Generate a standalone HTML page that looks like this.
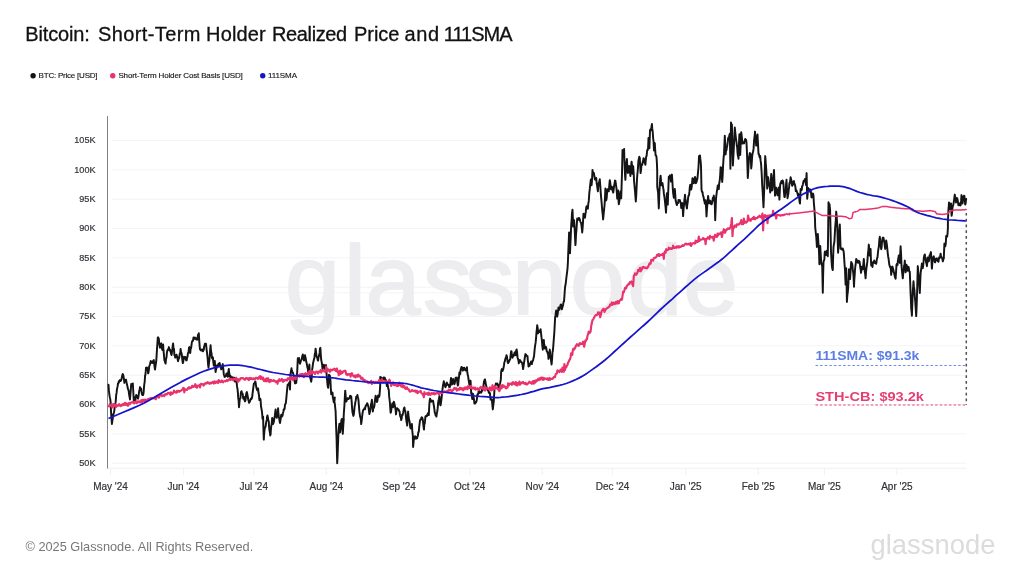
<!DOCTYPE html>
<html lang="en"><head><meta charset="utf-8"><title>Bitcoin: Short-Term Holder Realized Price and 111SMA</title>
<style>
html,body{margin:0;padding:0;background:#fff}
body{will-change:transform;width:1024px;height:576px;position:relative;overflow:hidden;font-family:"Liberation Sans",sans-serif}
.title{-webkit-text-stroke:0.3px #111114;position:absolute;left:0;top:23.3px;height:23px;font-size:20px;line-height:23px;color:#111114;white-space:nowrap}
.title span{position:absolute;top:0}
.legend{-webkit-text-stroke:0.15px #18181b;position:absolute;top:70.4px;left:0;height:12px;font-size:8px;color:#18181b;white-space:nowrap}
.legend span.i{position:absolute;top:0;line-height:12px}
.legend i{position:absolute;top:2.7px;width:5.4px;height:5.4px;border-radius:50%}
.footer{position:absolute;left:25.5px;top:538.5px;font-size:12.75px;line-height:15px;color:#77777b;white-space:nowrap}
</style></head><body>
<div class="title"><span style="left:25.3px;letter-spacing:-0.14px">Bitcoin:</span> <span style="left:98.0px;letter-spacing:0.39px">Short-Term</span> <span style="left:206.1px;letter-spacing:0.15px">Holder</span> <span style="left:272.0px;letter-spacing:-0.37px">Realized</span> <span style="left:354.0px;letter-spacing:-0.05px">Price</span> <span style="left:404.4px;letter-spacing:0.7px">and</span> <span style="left:443.8px;letter-spacing:-0.98px">111SMA</span></div>
<div class="legend">
<span class="i" style="left:38.6px;letter-spacing:-0.22px">BTC: Price [USD]</span>
<span class="i" style="left:118.4px;letter-spacing:-0.15px">Short-Term Holder Cost Basis [USD]</span>
<span class="i" style="left:268px;letter-spacing:-0.1px">111SMA</span>
</div>
<svg width="1024" height="576" viewBox="0 0 1024 576" style="position:absolute;left:0;top:0"><line x1="112" x2="966.5" y1="140.5" y2="140.5" stroke="#f4f3f6" stroke-width="1"/><line x1="112" x2="966.5" y1="169.8" y2="169.8" stroke="#f4f3f6" stroke-width="1"/><line x1="112" x2="966.5" y1="199.2" y2="199.2" stroke="#f4f3f6" stroke-width="1"/><line x1="112" x2="966.5" y1="228.5" y2="228.5" stroke="#f4f3f6" stroke-width="1"/><line x1="112" x2="966.5" y1="257.8" y2="257.8" stroke="#f4f3f6" stroke-width="1"/><line x1="112" x2="966.5" y1="287.2" y2="287.2" stroke="#f4f3f6" stroke-width="1"/><line x1="112" x2="966.5" y1="316.5" y2="316.5" stroke="#f4f3f6" stroke-width="1"/><line x1="112" x2="966.5" y1="345.8" y2="345.8" stroke="#f4f3f6" stroke-width="1"/><line x1="112" x2="966.5" y1="375.2" y2="375.2" stroke="#f4f3f6" stroke-width="1"/><line x1="112" x2="966.5" y1="404.5" y2="404.5" stroke="#f4f3f6" stroke-width="1"/><line x1="112" x2="966.5" y1="433.9" y2="433.9" stroke="#f4f3f6" stroke-width="1"/><line x1="112" x2="966.5" y1="463.2" y2="463.2" stroke="#f4f3f6" stroke-width="1"/><line x1="112" x2="966.5" y1="292.8" y2="292.8" stroke="#f4f3f6" stroke-width="1"/><line x1="107.5" x2="966.5" y1="468.3" y2="468.3" stroke="#f1f0f3" stroke-width="1"/><line x1="110.5" x2="110.5" y1="468.3" y2="475" stroke="#f1f0f3" stroke-width="1"/><line x1="183.4" x2="183.4" y1="468.3" y2="475" stroke="#f1f0f3" stroke-width="1"/><line x1="253.7" x2="253.7" y1="468.3" y2="475" stroke="#f1f0f3" stroke-width="1"/><line x1="326.3" x2="326.3" y1="468.3" y2="475" stroke="#f1f0f3" stroke-width="1"/><line x1="399.1" x2="399.1" y1="468.3" y2="475" stroke="#f1f0f3" stroke-width="1"/><line x1="469.7" x2="469.7" y1="468.3" y2="475" stroke="#f1f0f3" stroke-width="1"/><line x1="542.3" x2="542.3" y1="468.3" y2="475" stroke="#f1f0f3" stroke-width="1"/><line x1="612.6" x2="612.6" y1="468.3" y2="475" stroke="#f1f0f3" stroke-width="1"/><line x1="685.7" x2="685.7" y1="468.3" y2="475" stroke="#f1f0f3" stroke-width="1"/><line x1="758.3" x2="758.3" y1="468.3" y2="475" stroke="#f1f0f3" stroke-width="1"/><line x1="824.4" x2="824.4" y1="468.3" y2="475" stroke="#f1f0f3" stroke-width="1"/><line x1="896.9" x2="896.9" y1="468.3" y2="475" stroke="#f1f0f3" stroke-width="1"/><line x1="107.5" x2="107.5" y1="116" y2="468.5" stroke="#828087" stroke-width="1"/><text x="285.1 344 365.4 422.8 465.3 511.9 570 627.3 683" y="313.75" font-family="'Liberation Sans', sans-serif" font-size="99" fill="#ededef" stroke="#ededef" stroke-width="1.8" stroke-linejoin="round">glassnode</text><text x="95.5" y="143.2" text-anchor="end" textLength="21.2" lengthAdjust="spacingAndGlyphs" font-family="'Liberation Sans', sans-serif" font-size="9.9" fill="#343238" stroke="#343238" stroke-width="0.2">105K</text><text x="95.5" y="172.5" text-anchor="end" textLength="21.2" lengthAdjust="spacingAndGlyphs" font-family="'Liberation Sans', sans-serif" font-size="9.9" fill="#343238" stroke="#343238" stroke-width="0.2">100K</text><text x="95.5" y="201.9" text-anchor="end" textLength="16.2" lengthAdjust="spacingAndGlyphs" font-family="'Liberation Sans', sans-serif" font-size="9.9" fill="#343238" stroke="#343238" stroke-width="0.2">95K</text><text x="95.5" y="231.2" text-anchor="end" textLength="16.2" lengthAdjust="spacingAndGlyphs" font-family="'Liberation Sans', sans-serif" font-size="9.9" fill="#343238" stroke="#343238" stroke-width="0.2">90K</text><text x="95.5" y="260.5" text-anchor="end" textLength="16.2" lengthAdjust="spacingAndGlyphs" font-family="'Liberation Sans', sans-serif" font-size="9.9" fill="#343238" stroke="#343238" stroke-width="0.2">85K</text><text x="95.5" y="289.9" text-anchor="end" textLength="16.2" lengthAdjust="spacingAndGlyphs" font-family="'Liberation Sans', sans-serif" font-size="9.9" fill="#343238" stroke="#343238" stroke-width="0.2">80K</text><text x="95.5" y="319.2" text-anchor="end" textLength="16.2" lengthAdjust="spacingAndGlyphs" font-family="'Liberation Sans', sans-serif" font-size="9.9" fill="#343238" stroke="#343238" stroke-width="0.2">75K</text><text x="95.5" y="348.5" text-anchor="end" textLength="16.2" lengthAdjust="spacingAndGlyphs" font-family="'Liberation Sans', sans-serif" font-size="9.9" fill="#343238" stroke="#343238" stroke-width="0.2">70K</text><text x="95.5" y="377.9" text-anchor="end" textLength="16.2" lengthAdjust="spacingAndGlyphs" font-family="'Liberation Sans', sans-serif" font-size="9.9" fill="#343238" stroke="#343238" stroke-width="0.2">65K</text><text x="95.5" y="407.2" text-anchor="end" textLength="16.2" lengthAdjust="spacingAndGlyphs" font-family="'Liberation Sans', sans-serif" font-size="9.9" fill="#343238" stroke="#343238" stroke-width="0.2">60K</text><text x="95.5" y="436.6" text-anchor="end" textLength="16.2" lengthAdjust="spacingAndGlyphs" font-family="'Liberation Sans', sans-serif" font-size="9.9" fill="#343238" stroke="#343238" stroke-width="0.2">55K</text><text x="95.5" y="465.9" text-anchor="end" textLength="16.2" lengthAdjust="spacingAndGlyphs" font-family="'Liberation Sans', sans-serif" font-size="9.9" fill="#343238" stroke="#343238" stroke-width="0.2">50K</text><text x="110.5" y="489.6" text-anchor="middle" font-family="'Liberation Sans', sans-serif" font-size="10" fill="#343238" stroke="#343238" stroke-width="0.2">May '24</text><text x="183.4" y="489.6" text-anchor="middle" font-family="'Liberation Sans', sans-serif" font-size="10" fill="#343238" stroke="#343238" stroke-width="0.2">Jun '24</text><text x="253.7" y="489.6" text-anchor="middle" font-family="'Liberation Sans', sans-serif" font-size="10" fill="#343238" stroke="#343238" stroke-width="0.2">Jul '24</text><text x="326.3" y="489.6" text-anchor="middle" font-family="'Liberation Sans', sans-serif" font-size="10" fill="#343238" stroke="#343238" stroke-width="0.2">Aug '24</text><text x="399.1" y="489.6" text-anchor="middle" font-family="'Liberation Sans', sans-serif" font-size="10" fill="#343238" stroke="#343238" stroke-width="0.2">Sep '24</text><text x="469.7" y="489.6" text-anchor="middle" font-family="'Liberation Sans', sans-serif" font-size="10" fill="#343238" stroke="#343238" stroke-width="0.2">Oct '24</text><text x="542.3" y="489.6" text-anchor="middle" font-family="'Liberation Sans', sans-serif" font-size="10" fill="#343238" stroke="#343238" stroke-width="0.2">Nov '24</text><text x="612.6" y="489.6" text-anchor="middle" font-family="'Liberation Sans', sans-serif" font-size="10" fill="#343238" stroke="#343238" stroke-width="0.2">Dec '24</text><text x="685.7" y="489.6" text-anchor="middle" font-family="'Liberation Sans', sans-serif" font-size="10" fill="#343238" stroke="#343238" stroke-width="0.2">Jan '25</text><text x="758.3" y="489.6" text-anchor="middle" font-family="'Liberation Sans', sans-serif" font-size="10" fill="#343238" stroke="#343238" stroke-width="0.2">Feb '25</text><text x="824.4" y="489.6" text-anchor="middle" font-family="'Liberation Sans', sans-serif" font-size="10" fill="#343238" stroke="#343238" stroke-width="0.2">Mar '25</text><text x="896.9" y="489.6" text-anchor="middle" font-family="'Liberation Sans', sans-serif" font-size="10" fill="#343238" stroke="#343238" stroke-width="0.2">Apr '25</text><path d="M108.5 384.7L108.9 390.4L109.4 395.0L109.8 397.2L110.2 398.9L110.6 401.8L110.9 408.9L111.2 414.5L111.6 419.8L111.9 424.0L112.3 421.1L112.8 418.0L113.1 414.4L113.4 414.4L113.8 413.1L114.2 411.6L114.6 407.8L115.0 405.2L115.3 403.7L115.6 402.4L115.9 399.1L116.2 394.8L116.6 392.9L116.9 389.6L117.2 388.1L117.6 386.4L118.0 383.5L118.4 383.5L118.8 381.2L119.1 382.0L119.5 380.7L119.9 380.1L120.2 380.4L120.6 380.9L121.0 380.5L121.5 379.2L121.9 377.3L122.3 375.2L122.7 374.0L123.1 374.5L123.5 376.2L124.0 379.6L124.4 382.9L124.8 380.2L125.2 379.9L125.6 380.4L126.0 379.7L126.5 382.1L126.9 384.4L127.3 385.5L127.7 388.1L128.1 389.6L128.5 389.8L128.9 393.0L129.2 395.1L129.6 397.2L130.0 399.5L130.4 394.6L130.8 389.9L131.2 384.0L131.6 385.2L132.0 384.5L132.4 384.3L132.8 383.4L133.1 388.3L133.4 393.7L133.8 400.7L134.1 398.0L134.5 397.2L134.8 398.4L135.2 400.0L135.5 399.7L135.9 397.0L136.2 395.0L136.6 396.9L137.0 396.7L137.4 396.1L137.8 397.9L138.1 398.7L138.5 395.8L138.9 393.3L139.2 391.1L139.6 389.9L140.0 387.1L140.4 388.2L140.8 389.5L141.1 388.7L141.5 391.9L141.9 393.8L142.3 394.9L142.7 393.5L143.1 395.0L143.6 392.8L144.0 387.1L144.3 384.1L144.7 381.8L145.0 376.5L145.3 375.3L145.7 371.9L146.0 367.8L146.4 367.8L146.8 368.1L147.1 367.5L147.5 368.2L147.8 370.3L148.1 373.3L148.5 372.3L148.9 369.7L149.2 366.3L149.6 365.4L150.0 364.3L150.4 362.8L150.7 361.1L151.1 361.5L151.4 361.7L151.8 361.5L152.1 363.1L152.5 361.4L152.9 362.7L153.3 360.7L153.8 360.1L154.2 363.7L154.6 367.0L155.0 369.5L155.4 366.8L155.8 364.1L156.2 361.7L156.6 355.8L157.0 348.9L157.4 343.2L157.8 337.6L158.1 337.4L158.4 338.2L158.8 338.5L159.2 343.3L159.6 345.6L160.0 347.7L160.4 345.6L160.8 344.0L161.2 343.4L161.7 345.7L162.1 349.2L162.5 349.9L162.8 345.4L163.1 344.4L163.5 350.2L164.0 355.5L164.4 360.3L164.8 360.7L165.2 362.6L165.6 363.6L166.0 358.9L166.5 357.5L166.9 352.6L167.3 350.7L167.7 349.9L168.1 349.1L168.5 349.4L168.9 347.1L169.2 348.4L169.6 350.6L170.0 349.6L170.4 350.7L170.8 352.6L171.1 353.7L171.5 355.1L171.9 353.0L172.3 349.5L172.7 346.0L173.1 343.5L173.5 348.3L174.0 348.9L174.4 355.1L174.8 354.9L175.2 357.6L175.6 357.3L176.1 355.8L176.5 354.7L176.9 355.8L177.3 357.5L177.7 359.8L178.1 361.2L178.5 358.9L179.0 358.5L179.4 356.8L179.8 353.4L180.2 353.8L180.6 348.9L181.0 351.8L181.5 353.1L181.9 355.2L182.3 359.6L182.8 363.1L183.2 362.2L183.6 358.9L184.0 356.7L184.4 358.6L184.8 357.9L185.1 357.5L185.5 357.0L185.9 359.6L186.2 360.3L186.7 360.4L187.1 357.6L187.5 356.8L187.9 353.5L188.2 352.6L188.6 351.8L189.0 347.7L189.4 347.1L189.8 350.7L190.2 353.1L190.7 348.3L191.1 348.1L191.5 345.2L191.9 342.0L192.3 341.4L192.7 340.5L193.1 340.5L193.5 337.5L194.0 337.7L194.4 337.6L194.8 338.8L195.2 338.2L195.6 337.8L196.0 339.2L196.5 339.0L196.9 339.1L197.2 339.7L197.6 337.9L198.0 334.8L198.4 334.9L198.8 333.2L199.2 340.1L199.6 345.4L200.0 349.5L200.4 349.5L200.8 350.2L201.1 349.7L201.5 350.5L201.9 349.4L202.2 350.1L202.6 350.8L203.0 351.3L203.4 349.2L203.8 349.8L204.1 346.6L204.5 345.6L204.9 343.8L205.2 345.7L205.6 343.8L206.0 343.8L206.4 347.5L206.8 351.2L207.2 354.3L207.7 358.9L208.1 364.7L208.5 367.7L208.9 363.7L209.4 360.2L209.8 355.0L210.2 349.4L210.6 345.2L211.0 351.0L211.5 353.2L211.9 357.5L212.2 358.6L212.5 358.5L212.9 357.3L213.3 361.9L213.8 365.6L214.1 363.3L214.4 361.4L214.8 361.0L215.2 367.7L215.6 372.0L216.0 369.7L216.5 367.9L216.9 365.4L217.3 366.1L217.7 365.2L218.1 366.2L218.5 363.7L218.9 365.1L219.2 364.6L219.6 362.9L220.0 364.6L220.4 366.6L220.8 366.7L221.2 369.3L221.6 368.6L222.0 366.5L222.4 365.6L222.8 364.1L223.1 367.3L223.4 370.2L223.8 374.2L224.2 375.6L224.6 376.9L225.0 375.9L225.4 376.4L225.8 376.4L226.2 374.1L226.6 373.6L226.9 375.8L227.3 373.2L227.7 374.3L228.0 376.8L228.4 371.4L228.8 368.9L229.1 372.6L229.4 373.6L229.8 376.0L230.1 377.0L230.5 375.9L230.9 376.6L231.2 377.7L231.6 378.6L232.0 378.2L232.3 378.0L232.7 377.2L233.0 377.6L233.4 379.1L233.8 379.1L234.1 378.2L234.5 377.9L234.8 381.4L235.2 381.6L235.5 381.2L235.9 377.9L236.2 379.8L236.7 382.9L237.1 386.9L237.5 388.8L237.9 392.8L238.2 397.9L238.6 400.4L239.0 407.2L239.3 404.2L239.7 400.1L240.0 398.6L240.4 398.2L240.8 394.0L241.1 392.0L241.5 391.2L241.9 392.6L242.3 393.4L242.7 393.9L243.1 397.9L243.5 398.8L243.9 397.3L244.2 397.0L244.6 400.3L245.0 401.4L245.4 400.6L245.8 398.2L246.1 394.4L246.5 392.8L246.9 392.1L247.3 394.2L247.8 396.7L248.2 399.5L248.6 400.6L249.0 402.7L249.4 402.3L249.8 401.4L250.2 400.7L250.6 399.3L251.0 398.4L251.4 398.9L251.8 398.2L252.2 396.9L252.6 393.1L253.0 390.2L253.4 386.9L253.8 383.8L254.1 383.5L254.5 383.4L254.9 382.9L255.2 381.5L255.6 382.3L256.0 385.8L256.5 388.0L256.9 389.6L257.3 390.3L257.7 389.5L258.1 388.4L258.5 392.8L259.0 395.5L259.4 400.1L259.8 399.8L260.2 398.6L260.6 400.1L261.0 406.3L261.5 409.0L261.9 411.1L262.2 414.2L262.5 418.6L262.8 417.9L263.1 416.6L263.4 428.8L263.8 439.6L264.1 434.8L264.4 431.1L264.8 428.3L265.2 427.3L265.6 426.5L266.0 423.5L266.4 421.2L266.8 419.7L267.1 416.7L267.5 415.4L267.9 417.7L268.3 420.3L268.8 421.7L269.1 427.4L269.5 430.6L269.9 432.5L270.2 435.5L270.6 434.5L270.9 429.3L271.2 426.3L271.6 424.5L271.9 421.5L272.2 417.9L272.7 421.1L273.1 424.0L273.5 422.9L274.0 420.9L274.4 418.1L274.8 415.7L275.2 412.7L275.6 409.4L276.1 413.5L276.5 417.4L276.8 417.7L277.2 415.9L277.5 415.3L277.8 412.7L278.1 408.3L278.4 413.2L278.8 416.2L279.2 418.2L279.6 421.0L280.0 423.0L280.4 420.6L280.8 418.2L281.2 414.8L281.7 416.8L282.1 416.0L282.5 415.9L282.9 413.2L283.3 412.0L283.8 409.3L284.2 409.5L284.6 408.8L285.0 404.8L285.4 403.9L285.8 403.2L286.2 399.6L286.7 394.1L287.1 389.9L287.5 385.9L287.8 384.5L288.2 384.9L288.5 384.8L288.9 383.7L289.4 382.2L289.7 386.3L290.0 389.5L290.3 380.2L290.6 373.1L291.1 370.5L291.5 368.3L291.8 370.0L292.2 371.3L292.5 372.8L292.9 372.7L293.3 373.9L293.8 376.6L294.2 379.0L294.6 381.1L295.0 383.4L295.4 382.4L295.8 383.2L296.2 383.0L296.6 379.3L296.9 375.2L297.2 372.0L297.8 358.3L298.2 358.5L298.6 359.4L299.0 358.0L299.3 361.0L299.7 363.2L300.0 363.6L300.4 362.4L300.8 360.9L301.2 360.1L301.6 359.4L302.0 357.8L302.4 355.5L302.8 354.5L303.2 356.4L303.6 358.9L304.0 360.6L304.3 358.3L304.7 355.9L305.0 355.2L305.4 357.1L305.8 358.8L306.2 361.6L306.7 363.3L307.1 365.5L307.5 367.9L307.8 368.3L308.2 371.8L308.5 371.3L308.9 368.6L309.4 364.5L309.7 372.7L310.0 377.0L310.4 378.1L310.8 380.0L311.2 381.7L311.6 379.2L311.9 373.5L312.2 369.4L312.7 366.0L313.1 362.9L313.5 361.3L314.0 359.2L314.4 358.2L314.8 354.0L315.2 352.9L315.6 348.7L316.0 351.6L316.5 356.1L316.9 357.0L317.3 357.8L317.7 360.1L318.1 360.6L318.5 357.4L319.0 355.9L319.4 354.3L319.7 352.2L320.0 348.4L320.4 347.9L320.8 354.9L321.2 359.8L321.7 362.4L322.1 364.5L322.5 368.9L322.9 366.6L323.3 366.5L323.8 364.8L324.2 365.5L324.6 367.9L325.0 370.2L325.3 368.0L325.7 365.5L326.0 365.0L326.4 371.2L326.9 377.9L327.3 382.5L327.7 386.1L328.1 387.8L328.6 383.1L329.0 374.8L329.3 375.9L329.7 375.3L330.0 376.2L330.4 379.9L330.8 388.1L331.2 394.3L331.7 392.9L332.1 392.5L332.5 392.6L332.9 397.6L333.3 399.6L333.8 402.3L334.1 400.8L334.4 399.7L334.8 397.5L334.4 402.0L334.8 403.7L335.2 407.5L335.6 411.2L335.9 420.4L336.2 428.7L336.6 439.5L336.9 451.8L337.2 463.2L337.6 455.7L337.9 446.4L338.2 439.2L338.5 432.3L338.9 427.9L339.4 423.7L339.7 427.8L340.0 432.4L340.3 429.2L340.7 425.8L341.0 423.7L341.4 420.4L341.9 418.9L342.3 429.4L342.8 433.8L343.1 428.4L343.4 423.8L343.8 418.8L343.5 419.7L343.9 412.3L344.4 405.8L344.8 397.9L345.2 390.7L345.6 394.9L346.0 401.4L346.4 401.4L346.8 399.8L347.1 398.5L347.5 399.1L347.9 398.2L348.2 398.8L348.6 399.0L349.0 398.5L349.4 398.2L349.8 397.5L350.1 395.8L350.5 396.4L350.9 397.1L351.2 396.3L351.7 401.9L352.1 408.2L352.5 412.4L352.9 413.8L353.3 415.9L353.8 414.6L354.2 410.8L354.6 406.7L355.0 404.5L355.4 401.9L355.8 400.2L356.2 396.7L356.6 396.7L357.0 396.7L357.4 395.0L357.8 397.4L358.1 397.9L358.5 400.5L359.0 406.9L359.4 411.7L359.8 414.4L360.1 416.8L360.5 417.3L360.9 420.0L361.2 424.1L361.7 420.4L362.1 417.0L362.5 413.7L362.9 411.0L363.3 409.9L363.8 409.4L364.2 408.7L364.6 407.9L365.0 409.3L365.4 406.9L365.8 405.4L366.1 405.6L366.5 405.5L366.9 403.6L367.3 403.2L367.7 404.7L368.1 405.6L368.5 407.4L369.0 411.0L369.4 414.0L369.8 412.6L370.2 410.2L370.6 407.9L371.0 404.3L371.5 402.2L371.9 399.8L372.3 404.7L372.8 411.5L373.2 409.0L373.6 407.9L374.0 407.5L374.4 405.8L374.8 401.6L375.2 398.4L375.6 395.8L376.0 396.6L376.5 399.9L376.9 402.1L377.3 401.3L377.7 398.5L378.1 395.5L378.5 396.5L379.0 396.9L379.4 396.1L379.8 391.7L380.2 385.5L380.2 376.9L380.7 378.3L381.1 377.3L381.5 378.0L381.9 379.4L382.3 379.9L382.7 378.8L383.1 378.5L383.5 377.5L383.9 377.9L384.3 379.4L384.8 377.6L385.2 380.7L385.6 379.6L386.0 380.2L386.4 382.8L386.9 386.1L387.2 384.5L387.5 383.1L387.9 386.3L388.3 388.6L388.8 390.1L389.2 396.9L389.6 400.0L390.0 404.0L390.3 408.7L390.6 412.7L391.0 412.2L391.5 408.1L391.9 406.2L392.3 403.5L392.7 406.7L393.1 407.2L393.4 404.2L393.8 401.7L394.2 402.8L394.6 404.5L395.0 406.4L395.3 408.2L395.7 410.7L396.0 414.4L396.4 411.2L396.9 408.1L397.2 408.1L397.6 409.4L398.0 409.6L398.4 409.3L398.8 410.0L399.2 411.1L399.6 411.5L400.0 415.2L400.4 416.8L400.8 417.0L401.2 420.1L401.7 418.3L402.1 414.7L402.5 415.3L402.9 413.5L403.2 412.4L403.6 410.3L404.0 408.2L404.4 407.4L404.8 410.0L405.2 410.7L405.6 413.2L405.9 416.6L406.2 419.4L406.6 422.1L406.9 423.4L407.2 425.5L407.7 417.1L408.1 411.6L408.5 415.5L409.0 419.4L409.4 420.7L409.8 423.0L410.2 427.1L410.6 428.4L411.0 427.2L411.5 426.8L411.9 424.0L412.3 430.9L412.8 435.5L413.1 447.0L413.6 441.8L414.0 436.9L414.3 437.5L414.7 438.8L415.0 436.2L415.4 436.5L415.8 438.4L416.2 438.4L416.7 438.5L417.1 438.2L417.5 436.7L417.9 435.6L418.3 432.1L418.8 431.9L419.2 426.9L419.6 423.7L420.0 420.6L420.4 419.6L420.8 419.7L421.2 418.3L421.7 417.3L422.1 417.6L422.5 418.5L422.9 420.5L423.2 423.4L423.6 427.2L424.0 429.6L424.3 424.2L424.7 423.7L425.0 421.2L425.4 416.6L425.8 416.0L426.2 415.8L426.7 416.2L427.1 415.8L427.5 414.5L427.9 413.3L428.3 413.9L428.8 415.1L429.1 409.0L429.4 403.7L429.8 399.9L430.1 398.6L430.5 399.9L430.9 400.4L431.2 401.7L431.6 401.0L432.0 400.6L432.4 400.8L432.8 401.3L433.1 400.9L433.5 403.5L434.0 406.5L434.4 409.4L434.8 412.9L435.2 413.3L435.6 415.2L436.0 415.4L436.4 416.6L436.8 413.4L437.2 411.5L437.7 408.4L438.1 403.1L438.5 400.4L438.9 399.2L439.4 396.1L439.8 400.4L440.2 404.8L440.6 405.3L441.0 402.7L441.5 398.7L441.9 394.9L442.3 390.6L442.8 387.1L443.1 384.5L443.4 383.7L443.8 381.2L444.2 383.6L444.6 384.1L445.0 385.9L445.4 387.3L445.8 386.4L446.1 385.1L446.5 383.3L446.9 382.5L447.2 383.5L447.6 384.8L448.0 384.9L448.4 385.1L448.8 384.7L449.1 386.9L449.4 386.7L449.8 387.1L450.2 385.1L450.6 381.6L451.0 378.0L451.4 380.9L451.9 384.5L452.3 383.7L452.7 382.2L453.1 379.0L453.5 381.7L454.0 383.5L454.4 384.1L454.8 383.1L455.2 380.3L455.6 377.7L456.0 378.5L456.5 379.3L456.9 377.5L457.3 382.3L457.8 385.6L458.2 384.8L458.6 379.8L459.0 377.3L459.4 372.5L459.8 372.9L460.2 374.2L460.6 369.9L461.1 368.0L461.5 366.9L461.9 367.4L462.3 367.4L462.7 370.6L463.1 370.3L463.5 368.1L463.9 369.7L464.2 367.8L464.6 369.8L465.0 369.0L465.4 369.3L465.8 370.6L466.1 370.1L466.5 368.3L466.9 367.2L467.3 371.9L467.7 374.8L468.1 375.8L468.5 379.4L469.0 382.0L469.4 384.8L469.8 380.9L470.2 380.6L470.6 381.0L470.9 387.5L471.2 393.8L471.6 392.7L471.9 396.0L472.2 398.9L472.7 398.9L473.1 394.0L473.5 396.4L474.0 399.5L474.4 403.4L474.8 402.4L475.1 403.6L475.5 402.2L475.9 402.6L476.2 402.0L476.7 400.4L477.1 397.6L477.5 394.3L477.9 394.6L478.3 392.9L478.8 390.2L479.2 391.3L479.6 392.9L480.0 392.0L480.4 392.0L480.8 392.6L481.1 392.8L481.5 392.0L481.9 389.8L482.3 390.9L482.7 389.8L483.1 388.3L483.6 384.5L484.0 381.4L484.3 380.7L484.7 379.7L485.0 379.4L485.4 381.7L485.8 384.1L486.2 385.8L486.7 388.2L487.1 387.8L487.5 390.0L487.9 389.4L488.3 390.7L488.8 392.6L489.2 392.9L489.6 392.5L490.0 393.6L490.3 397.6L490.6 399.6L491.0 399.5L491.5 400.0L491.9 399.3L492.3 404.2L492.8 409.4L493.1 406.9L493.4 404.3L493.8 401.2L494.1 395.7L494.4 390.9L494.8 386.0L495.1 385.5L495.5 385.3L495.9 383.4L496.2 383.8L496.7 384.2L497.1 383.4L497.5 383.8L497.9 385.5L498.3 386.0L498.8 388.9L499.2 385.0L499.6 385.5L500.0 384.0L500.4 381.6L500.8 379.7L501.2 371.2L501.6 370.2L501.9 369.1L502.3 369.4L502.7 370.9L503.1 369.2L503.1 369.9L503.5 367.8L504.0 365.2L504.4 362.0L504.8 361.5L505.2 359.3L505.6 358.2L506.0 357.4L506.5 355.2L506.9 356.4L507.3 359.3L507.7 362.3L508.1 363.2L508.5 362.2L509.0 361.7L509.4 360.4L509.8 359.7L510.2 359.3L510.6 355.3L511.1 351.3L511.5 351.3L511.8 354.5L512.2 356.2L512.5 357.8L512.9 356.1L513.2 355.1L513.6 356.1L514.0 354.6L514.4 352.9L514.8 352.2L515.2 355.0L515.6 355.2L516.0 352.0L516.3 349.9L516.6 349.4L517.1 352.1L517.5 357.2L517.9 358.7L518.3 359.5L518.8 363.4L519.2 361.5L519.6 361.0L520.0 360.1L520.4 360.5L520.8 361.9L521.2 361.9L521.7 362.3L522.1 363.1L522.5 364.8L522.8 366.8L523.1 369.1L523.6 365.9L524.0 362.9L524.3 361.1L524.7 358.5L525.0 356.5L525.4 354.1L525.8 354.5L526.2 354.9L526.7 355.9L527.1 355.9L527.5 356.1L527.8 360.3L528.2 362.9L528.5 366.5L528.9 366.2L529.2 365.3L529.6 365.8L530.0 363.9L530.4 363.1L530.8 362.1L531.1 361.4L531.5 363.3L531.9 364.1L532.3 361.9L532.7 360.8L533.1 360.4L533.5 358.2L534.0 356.5L534.4 352.1L534.8 347.9L535.2 345.1L535.6 342.7L536.1 337.6L536.5 332.0L536.9 328.8L537.2 325.3L537.7 328.1L538.1 333.4L538.5 331.5L539.0 330.8L539.4 332.1L539.8 331.9L540.2 330.9L540.6 329.3L541.0 332.9L541.5 337.4L541.9 340.2L542.3 345.7L542.8 349.7L543.1 346.6L543.4 342.7L543.8 339.9L544.1 344.0L544.4 344.9L544.8 348.4L545.2 348.4L545.6 347.4L546.0 346.9L546.4 348.9L546.8 351.4L547.2 351.6L547.7 353.6L548.1 353.9L548.5 358.9L548.9 355.9L549.3 353.2L549.8 349.6L550.2 354.2L550.6 357.4L551.0 360.1L551.3 362.7L551.6 364.5L552.1 358.8L552.5 351.8L552.8 351.1L553.2 347.3L553.5 343.1L553.9 337.7L554.4 331.3L554.8 323.4L555.2 316.4L555.6 315.2L555.9 312.1L556.2 310.5L556.6 314.0L556.9 315.8L557.2 316.6L557.7 313.6L558.1 310.4L558.5 307.5L558.9 309.3L559.3 309.8L559.8 308.3L560.1 307.5L560.5 305.1L560.9 304.4L561.2 304.7L561.6 306.1L561.9 309.3L562.2 308.0L562.6 306.8L562.9 305.8L563.2 304.2L563.6 301.7L564.0 301.4L564.4 296.3L564.8 290.1L565.2 286.2L565.6 284.5L566.1 280.2L566.5 276.7L566.9 273.7L567.2 271.3L567.6 267.5L567.9 262.2L568.2 254.2L568.5 246.9L568.8 240.2L569.1 232.4L569.6 242.0L570.0 253.3L570.3 245.6L570.7 237.8L571.0 229.7L571.3 223.5L571.7 218.8L572.0 212.9L572.5 209.7L572.9 219.1L573.2 226.6L573.7 224.1L574.1 220.1L574.5 225.8L575.0 236.7L575.4 245.1L575.7 241.8L576.0 234.6L576.4 230.5L576.8 224.7L577.2 218.6L577.6 218.9L578.0 220.1L578.4 218.3L578.8 218.0L579.1 217.9L579.5 219.0L579.9 219.7L580.2 221.3L580.6 222.2L581.0 222.6L581.4 225.0L581.8 228.0L582.2 232.5L582.7 226.9L583.1 220.4L583.5 213.7L583.9 215.9L584.2 215.1L584.6 216.3L585.0 217.7L585.4 214.0L585.8 211.9L586.2 207.6L586.6 206.3L587.0 207.2L587.5 206.4L587.9 208.8L588.3 203.5L588.8 200.9L589.1 196.0L589.4 192.2L589.8 188.9L590.1 185.6L590.4 183.1L590.8 179.5L591.2 183.0L591.6 185.2L592.1 179.1L592.5 169.9L592.9 173.1L593.3 173.8L593.7 172.6L594.1 174.3L594.5 176.8L595.0 179.5L595.4 179.4L595.8 180.0L596.2 177.9L596.7 183.5L597.1 185.4L597.5 188.9L597.9 191.4L598.3 185.8L598.8 183.1L599.1 182.0L599.4 181.2L599.8 179.3L600.1 183.6L600.4 187.6L600.8 193.6L601.2 198.1L601.6 202.4L602.0 207.6L602.4 211.9L602.8 215.3L603.1 219.5L603.5 215.7L603.8 212.5L604.1 209.6L604.6 204.5L605.0 197.4L605.4 188.5L605.8 195.7L606.2 200.4L606.7 198.0L607.1 192.3L607.5 189.2L607.9 190.5L608.3 190.1L608.8 191.3L609.1 187.9L609.4 184.1L609.8 180.2L610.1 181.8L610.4 183.8L610.8 188.7L611.1 189.3L611.5 188.7L611.9 186.8L612.2 187.8L612.6 190.1L612.9 191.8L613.2 192.5L613.7 189.0L614.1 185.9L614.5 183.6L615.0 180.6L615.4 180.7L615.8 184.0L616.2 186.4L616.6 189.7L616.9 193.6L617.2 198.6L617.7 194.0L618.1 190.4L618.4 198.7L618.8 204.3L619.1 202.9L619.5 200.1L619.9 195.7L620.4 191.5L620.8 196.2L621.2 198.4L621.6 185.9L622.0 172.8L622.5 150.1L622.9 151.1L623.3 150.5L623.7 150.0L624.1 149.0L624.4 160.3L624.8 169.9L625.1 176.1L625.4 179.8L625.7 173.8L626.0 168.7L626.4 163.0L626.9 159.0L627.2 164.5L627.5 167.1L627.9 173.0L628.3 172.0L628.7 169.1L629.1 166.0L629.5 169.0L630.0 172.1L630.4 176.0L630.8 171.2L631.2 164.8L631.6 161.7L632.1 166.2L632.5 173.8L632.9 169.4L633.2 166.3L633.7 173.6L634.1 181.3L634.6 187.0L635.0 191.2L635.4 196.5L635.8 201.5L636.2 196.3L636.6 187.7L637.0 179.0L637.4 173.9L637.8 170.5L638.1 165.1L638.5 160.2L638.9 158.9L639.3 156.8L639.8 158.1L640.2 166.7L640.6 173.1L641.1 169.3L641.5 164.5L641.8 164.6L642.2 164.9L642.5 163.1L642.8 161.6L643.2 160.4L643.5 158.3L643.9 158.6L644.4 161.3L644.7 163.2L645.0 162.8L645.4 164.8L645.8 159.8L646.2 156.6L646.6 156.0L646.9 153.2L647.2 150.0L647.7 150.2L648.1 148.0L648.5 137.9L648.9 141.3L649.4 148.3L649.7 139.9L650.0 130.6L650.3 129.5L650.7 130.0L651.0 130.2L651.4 127.3L651.9 124.0L652.3 128.9L652.8 132.7L653.1 137.8L653.5 140.9L654.0 150.5L654.4 146.1L654.8 143.1L655.2 150.1L655.6 155.4L656.1 155.5L656.5 157.0L656.9 162.9L657.2 170.6L657.2 186.5L657.7 190.0L658.1 192.6L658.4 199.9L658.8 208.4L659.1 200.4L659.4 191.8L659.8 185.1L660.2 178.8L660.6 175.7L661.1 181.7L661.5 185.2L661.8 184.1L662.2 184.2L662.5 183.1L662.8 185.4L663.2 188.2L663.5 189.3L663.9 193.9L664.4 196.9L664.8 199.8L665.2 203.9L665.6 207.6L666.0 212.6L666.4 204.1L666.9 193.3L667.3 198.3L667.8 204.6L668.1 195.0L668.4 187.3L668.8 176.7L669.2 177.3L669.6 176.3L670.0 175.3L670.3 178.8L670.7 178.5L671.0 181.6L671.4 177.6L671.9 174.6L672.3 180.0L672.8 188.7L673.1 192.8L673.4 194.9L673.8 197.7L674.1 197.1L674.4 193.0L674.8 188.9L675.2 193.8L675.6 200.2L676.1 202.3L676.5 204.1L676.9 205.0L677.3 203.0L677.7 202.6L678.1 203.0L678.5 200.0L679.0 200.1L679.4 200.4L679.8 200.0L680.2 201.3L680.6 203.0L680.9 204.1L681.2 208.0L681.6 204.3L681.9 203.7L682.2 203.1L682.7 208.3L683.1 216.1L683.6 208.7L684.0 204.8L684.3 200.8L684.7 197.7L685.0 194.8L685.3 198.4L685.7 200.7L686.0 203.7L686.4 205.7L686.9 208.6L687.3 204.6L687.7 202.4L688.1 197.8L688.5 195.6L689.0 195.4L689.4 191.9L689.8 187.2L690.2 184.8L690.6 186.0L690.9 187.0L691.2 189.6L691.7 186.9L692.1 182.9L692.5 178.2L692.9 178.7L693.3 179.6L693.8 183.2L694.2 182.0L694.6 179.7L695.0 176.9L695.4 178.2L695.8 183.2L696.2 182.6L696.7 181.1L697.1 179.9L697.5 178.0L697.8 174.7L698.2 170.4L698.5 167.0L699.0 156.5L699.3 155.7L699.7 157.1L700.0 155.5L700.3 158.7L700.7 162.1L701.0 166.0L701.5 189.3L701.8 191.1L702.2 192.2L702.5 192.0L702.9 195.0L703.3 196.3L703.8 198.2L704.1 200.7L704.4 200.2L704.8 203.6L705.2 202.1L705.6 200.3L706.1 208.0L706.5 216.4L706.9 210.3L707.2 206.1L707.7 200.6L708.1 195.9L708.6 200.8L709.0 203.3L709.3 203.0L709.7 200.6L710.0 200.7L710.4 201.8L710.8 203.4L711.2 204.2L711.7 204.3L712.1 202.1L712.5 200.3L712.9 197.7L713.3 198.2L713.8 195.6L714.1 197.9L714.4 200.6L714.8 203.9L715.2 220.2L715.6 209.9L716.0 198.9L716.4 195.2L716.9 191.1L717.3 188.8L717.8 185.5L718.1 186.9L718.4 188.1L718.8 189.2L719.1 184.2L719.4 182.3L719.8 179.8L720.2 175.1L720.6 167.2L720.9 167.4L721.2 167.8L721.6 172.4L721.9 178.2L722.2 181.9L722.7 175.0L723.1 165.2L723.6 157.7L724.0 153.9L724.4 144.9L724.8 135.7L725.2 144.8L725.6 154.4L726.0 150.8L726.5 150.1L726.9 147.2L727.3 145.2L727.8 141.7L728.1 138.7L728.4 137.5L728.8 138.9L729.1 137.0L729.4 135.0L729.8 133.8L730.1 151.2L730.4 168.7L730.7 145.7L731.0 122.5L731.4 124.7L731.9 124.5L732.2 138.9L732.5 152.4L732.9 165.5L733.3 157.4L733.8 148.7L734.1 141.7L734.4 134.7L734.8 127.5L735.2 131.8L735.6 135.4L736.1 140.0L736.5 142.4L736.8 145.5L737.2 147.7L737.5 152.8L737.8 155.2L738.2 156.9L738.5 158.8L738.9 144.8L739.4 134.2L739.8 143.3L740.2 154.9L740.6 146.3L740.9 138.2L741.2 132.2L741.7 135.8L742.1 139.9L742.5 143.6L742.9 142.3L743.3 143.3L743.8 142.8L744.1 143.3L744.5 141.2L744.9 140.5L745.2 139.0L745.6 140.0L746.1 139.8L746.5 142.6L746.9 151.1L747.2 159.4L747.8 178.0L748.1 174.0L748.4 167.5L748.8 161.6L749.1 157.0L749.4 155.4L749.8 153.1L750.2 153.4L750.6 154.3L750.9 160.0L751.2 168.5L751.6 165.3L751.9 160.8L752.2 155.9L752.7 153.0L753.1 151.8L753.6 148.4L754.0 141.9L754.3 138.4L754.7 135.6L755.0 131.6L755.4 137.4L755.8 140.1L756.2 145.6L756.7 140.2L757.1 136.4L757.5 134.4L757.8 140.2L758.2 147.8L758.5 153.9L758.9 153.9L759.4 156.4L759.8 157.8L760.2 156.0L760.6 160.7L760.9 162.7L761.2 165.0L761.2 166.2L761.6 172.0L761.9 178.2L762.2 185.7L762.7 192.2L763.1 200.3L763.5 207.3L763.9 196.1L764.4 184.7L764.8 169.4L765.2 156.1L765.6 160.7L765.9 165.7L766.2 168.9L766.6 175.3L766.9 181.5L767.2 188.6L767.7 182.5L768.1 177.1L768.5 179.8L769.0 184.1L769.4 186.0L769.8 187.5L770.2 192.5L770.6 187.1L770.9 180.8L771.2 174.0L771.7 181.4L772.1 190.6L772.5 189.2L772.8 185.0L773.1 180.8L773.6 175.7L774.0 170.0L774.3 178.5L774.7 186.8L775.0 195.6L775.4 191.9L775.8 191.0L776.2 187.6L776.7 190.9L777.1 193.1L777.5 195.4L777.9 193.2L778.3 189.7L778.8 187.6L779.1 194.0L779.4 199.6L779.8 191.7L780.2 184.2L780.7 182.8L781.1 181.9L781.5 181.0L781.8 183.3L782.2 181.5L782.5 180.4L782.8 180.7L783.2 182.1L783.5 184.3L783.9 191.5L784.4 197.0L784.8 197.0L785.2 193.5L785.6 192.3L786.1 184.1L786.5 179.8L786.8 186.1L787.2 192.0L787.5 198.2L787.9 196.0L788.3 193.8L788.8 189.5L789.1 187.3L789.4 183.2L789.8 183.0L790.2 180.6L790.6 177.3L791.0 178.7L791.5 180.7L791.9 185.1L792.3 185.8L792.7 184.1L793.1 184.6L793.5 181.7L793.9 181.1L794.2 182.9L794.6 183.8L795.0 185.0L795.4 186.9L795.8 191.1L796.1 189.9L796.5 190.6L796.9 191.7L797.2 192.2L797.6 193.8L798.0 195.7L798.4 194.0L798.8 195.1L799.2 198.1L799.6 201.9L800.0 203.6L800.3 196.4L800.6 189.1L801.0 190.5L801.4 190.2L801.8 189.5L802.1 186.1L802.5 186.1L802.9 184.4L803.3 182.1L803.8 180.7L804.2 181.1L804.6 180.5L805.0 178.9L805.3 181.4L805.7 182.6L806.0 184.9L806.3 178.8L806.6 173.1L806.9 185.8L807.2 198.7L807.7 193.6L808.1 188.0L808.5 190.5L809.0 189.7L809.4 189.2L809.8 191.5L810.2 192.0L810.6 189.6L811.1 193.7L811.5 197.3L811.8 197.4L812.2 196.1L812.5 194.3L812.8 193.4L813.2 194.0L813.5 196.1L813.9 203.5L814.4 209.2L814.7 214.2L815.0 219.3L815.2 227.2L815.6 231.0L815.9 234.0L816.2 236.2L816.6 241.9L816.9 246.9L817.3 239.5L817.8 233.9L818.1 238.1L818.4 242.8L818.8 247.2L819.1 254.7L819.4 264.2L819.8 256.2L820.2 245.9L820.6 252.2L820.9 257.5L821.2 261.9L821.6 264.2L821.9 265.2L822.2 265.7L822.8 292.8L823.1 276.9L823.5 262.2L823.9 260.5L824.4 259.3L824.7 252.6L825.0 251.5L825.3 254.2L825.7 253.8L826.0 255.0L826.4 252.9L826.9 250.7L827.3 253.3L827.8 256.2L828.2 226.6L828.5 202.3L828.8 203.2L829.2 204.4L829.5 204.3L829.8 207.2L830.1 209.9L830.5 228.1L831.0 251.7L831.4 258.8L831.9 266.0L832.3 268.6L832.8 270.1L833.1 258.3L833.5 247.1L833.9 244.3L834.4 241.8L834.8 234.4L835.2 227.1L835.8 220.2L836.2 211.6L836.7 216.7L837.1 222.7L837.5 233.2L837.8 244.2L838.1 252.7L838.6 243.5L839.0 236.1L839.4 229.3L839.8 224.5L840.2 237.0L840.6 248.7L841.0 248.1L841.5 249.1L841.9 249.4L842.3 249.7L842.7 248.4L843.1 249.5L843.6 251.2L844.0 255.5L844.3 260.5L844.7 266.2L845.0 269.8L845.3 277.9L845.6 284.6L845.9 276.2L846.2 268.2L846.6 284.2L846.9 301.9L847.3 296.0L847.7 292.8L848.1 289.0L848.6 279.5L849.0 269.2L849.3 272.5L849.7 276.2L850.0 279.1L850.4 274.2L850.8 266.8L851.2 261.9L851.7 264.6L852.1 263.5L852.5 265.8L852.8 270.1L853.2 272.6L853.5 275.7L854.0 286.8L854.3 279.8L854.7 274.9L855.0 269.6L855.4 266.0L855.8 263.1L856.2 258.9L856.7 259.8L857.1 261.0L857.5 261.5L857.9 262.8L858.3 261.7L858.8 260.7L859.2 261.3L859.6 261.9L860.0 264.8L860.3 267.7L860.7 269.6L861.0 272.8L861.4 270.1L861.9 266.8L862.3 269.5L862.8 269.2L863.1 266.8L863.4 263.5L863.8 258.9L864.1 263.3L864.4 267.2L864.8 271.6L865.2 274.4L865.6 278.3L866.0 272.2L866.5 267.6L866.9 265.0L867.3 261.9L867.7 257.1L868.1 252.1L868.4 250.3L868.8 244.6L869.1 247.6L869.4 252.1L869.8 255.6L870.2 252.4L870.6 249.0L870.9 258.6L871.2 265.4L871.7 264.7L872.1 265.6L872.5 267.0L872.9 262.3L873.3 263.0L873.8 262.0L874.2 260.4L874.6 262.9L875.0 262.0L875.4 263.3L875.8 262.6L876.2 263.8L876.7 260.1L877.1 258.2L877.5 257.4L877.9 253.2L878.3 249.7L878.8 246.8L879.1 243.6L879.4 239.2L879.8 236.8L880.2 240.2L880.6 242.8L880.9 247.5L881.2 249.2L881.6 247.4L881.9 243.1L882.2 240.8L882.7 237.8L883.1 238.2L883.5 237.7L883.9 240.3L884.4 242.8L884.8 246.1L885.2 248.9L885.6 244.6L885.9 242.8L886.2 240.5L886.6 243.0L886.9 244.9L887.2 247.9L887.7 252.9L888.1 256.2L888.5 258.2L889.0 262.4L889.4 265.2L889.8 266.2L890.2 267.3L890.6 266.8L890.9 270.1L891.2 274.9L891.7 271.2L892.1 268.6L892.5 266.6L892.9 268.4L893.3 269.5L893.8 272.2L894.1 272.8L894.4 274.6L894.8 276.4L895.2 277.6L895.6 278.8L896.1 271.3L896.5 264.7L896.8 264.1L897.2 264.5L897.5 265.2L897.9 260.7L898.3 258.8L898.8 255.4L899.1 257.2L899.4 259.6L899.8 262.8L900.2 254.1L900.6 246.3L901.1 254.6L901.5 265.7L901.9 270.4L902.3 274.0L902.8 278.3L903.1 274.8L903.4 271.3L903.8 269.1L904.1 265.6L904.4 265.7L904.8 260.6L905.2 267.5L905.6 272.3L906.1 268.3L906.5 264.8L906.8 265.5L907.2 268.7L907.5 270.7L907.8 267.6L908.2 267.6L908.5 266.8L908.9 268.6L909.3 271.5L909.8 271.7L910.2 282.6L910.6 293.6L910.9 299.6L911.2 308.5L911.6 311.5L911.9 315.8L912.3 304.7L912.8 291.3L913.1 287.2L913.5 281.2L913.9 286.4L914.4 289.8L914.8 296.5L915.2 300.8L915.6 306.8L915.9 311.3L916.2 316.1L916.6 307.4L916.9 298.8L917.2 288.1L917.5 276.9L917.8 266.1L918.1 269.7L918.4 273.8L918.8 278.7L919.1 281.9L919.4 287.5L919.8 293.0L920.2 282.4L920.6 273.3L921.0 270.5L921.5 266.9L921.9 263.6L922.3 267.0L922.8 268.2L923.1 266.2L923.4 263.5L923.8 258.4L924.1 256.3L924.4 255.4L924.8 254.4L925.2 256.7L925.6 258.6L926.0 262.0L926.5 263.7L926.9 266.2L927.3 262.6L927.8 257.4L928.1 259.8L928.4 258.9L928.8 261.4L929.2 259.1L929.6 255.1L930.0 255.1L930.4 253.8L930.9 252.1L931.2 256.1L931.5 261.4L931.9 268.6L932.2 265.1L932.5 259.7L932.9 258.8L933.3 257.1L933.8 256.3L934.1 258.7L934.4 260.3L934.8 262.3L935.2 262.3L935.6 258.7L936.0 259.5L936.4 258.8L936.8 258.3L937.2 260.3L937.7 261.1L938.1 260.1L938.5 261.7L938.9 258.4L939.4 257.1L939.8 257.9L940.2 256.2L940.6 253.7L941.0 255.7L941.5 257.5L941.9 257.9L942.3 258.4L942.8 261.4L943.1 260.3L943.4 259.1L943.8 258.4L944.1 250.7L944.4 243.6L944.7 244.5L945.0 246.6L945.4 245.8L945.8 243.3L946.2 235.9L946.6 237.3L946.9 236.1L947.2 236.4L947.6 233.2L947.9 227.9L947.9 222.0L948.4 210.0L948.7 207.2L949.0 202.5L949.3 203.3L949.7 203.5L950.0 208.9L950.3 207.1L950.7 205.8L951.0 203.5L951.3 210.9L951.6 215.8L952.1 212.5L952.5 207.7L952.9 205.7L953.3 204.8L953.8 201.8L954.1 199.8L954.4 197.5L954.8 194.6L955.2 197.2L955.6 199.1L956.0 202.5L956.4 198.0L956.8 198.5L957.2 198.2L957.7 200.4L958.1 203.2L958.5 205.3L958.9 204.6L959.3 203.4L959.8 203.4L960.2 205.5L960.6 205.3L961.1 200.9L961.5 195.1L961.8 197.2L962.2 200.7L962.5 203.5L962.8 201.7L963.2 198.7L963.5 196.9L963.9 195.7L964.4 196.1L964.8 200.0L965.2 204.5L965.6 203.6L965.9 200.6L966.2 199.0" fill="none" stroke="#141416" stroke-width="1.95" stroke-linejoin="round" stroke-linecap="round"/><path d="M108.5 405.5L109.1 406.4L109.7 404.2L110.3 405.0L110.9 406.0L111.4 406.2L112.0 405.1L112.6 407.5L113.2 404.0L113.8 404.4L114.4 405.6L115.0 406.4L115.6 404.8L116.2 407.0L116.8 405.3L117.3 405.8L117.9 405.9L118.5 405.0L119.1 404.2L119.7 404.8L120.3 406.1L120.9 406.0L121.5 405.0L122.1 405.4L122.6 404.3L123.2 403.9L123.8 405.1L124.4 404.8L125.0 402.9L125.6 404.8L126.2 403.3L126.8 405.1L127.4 404.5L128.0 405.8L128.6 403.2L129.2 403.7L129.8 404.3L130.4 402.6L131.0 402.7L131.7 402.7L132.3 401.9L132.9 402.7L133.5 401.8L134.1 403.4L134.7 402.2L135.3 402.5L135.9 401.7L136.5 403.2L137.1 401.3L137.7 402.6L138.3 401.5L138.9 402.1L139.5 401.3L140.1 402.2L140.7 402.5L141.3 400.0L141.9 402.2L142.5 401.1L143.1 399.7L143.8 401.3L144.4 400.9L145.0 399.6L145.6 401.5L146.2 401.2L146.8 400.0L147.4 399.7L148.0 399.2L148.6 400.1L149.2 398.8L149.8 398.6L150.4 398.7L151.0 398.0L151.6 398.5L152.2 398.4L152.8 398.1L153.4 398.3L154.0 398.5L154.6 397.9L155.2 398.0L155.8 399.2L156.5 396.9L157.1 396.3L157.7 396.8L158.3 397.1L158.9 397.7L159.5 395.9L160.1 395.6L160.7 395.4L161.3 395.0L161.9 396.2L162.5 395.6L163.1 395.2L163.7 395.2L164.3 396.1L164.9 394.3L165.5 394.5L166.1 394.0L166.7 394.6L167.3 393.8L167.9 392.8L168.5 392.9L169.2 393.5L169.8 392.9L170.4 394.9L171.0 392.3L171.6 394.2L172.2 393.3L172.8 393.6L173.4 392.5L174.0 390.6L174.6 391.6L175.2 392.3L175.8 392.1L176.4 392.7L177.0 390.8L177.6 391.9L178.2 391.0L178.8 390.8L179.4 391.7L180.0 391.0L180.6 390.9L181.2 390.6L181.9 389.7L182.5 389.6L183.1 388.1L183.7 387.9L184.3 392.4L184.9 389.5L185.5 389.3L186.1 389.8L186.7 389.3L187.3 389.7L187.9 388.0L188.5 388.5L189.1 387.2L189.7 388.5L190.3 387.6L190.9 387.7L191.5 387.8L192.1 385.9L192.7 385.9L193.3 386.8L194.0 386.3L194.6 386.3L195.2 384.2L195.8 386.9L196.4 385.5L197.0 387.8L197.6 385.9L198.2 385.6L198.8 385.4L199.4 385.2L200.0 387.5L200.6 384.1L201.2 383.8L201.8 384.4L202.4 384.2L203.0 384.1L203.6 385.6L204.2 384.9L204.8 383.5L205.4 383.0L206.0 383.6L206.5 383.3L207.1 382.5L207.7 382.2L208.3 383.2L208.9 382.8L209.5 383.8L210.1 382.7L210.7 382.8L211.3 383.3L211.9 382.6L212.5 381.9L213.1 382.9L213.8 383.5L214.4 381.3L215.0 382.5L215.6 383.1L216.2 381.5L216.9 382.2L217.5 381.5L218.1 383.0L218.8 380.1L219.4 380.8L220.0 381.6L220.6 382.1L221.2 381.4L221.9 380.5L222.5 382.1L223.1 382.4L223.8 381.4L224.4 381.3L225.0 381.1L225.6 381.3L226.2 380.6L226.9 380.0L227.5 381.0L228.1 380.2L228.8 380.0L229.4 379.0L230.0 379.8L230.6 380.1L231.2 378.9L231.9 379.3L232.5 379.3L233.1 380.3L233.8 378.7L234.4 379.3L235.0 379.7L235.6 378.4L236.2 377.7L236.9 380.6L237.5 379.1L238.1 381.7L238.8 379.4L239.4 380.6L240.0 379.3L240.6 378.2L241.2 378.0L241.9 378.5L242.5 378.0L243.1 378.0L243.8 378.7L244.4 379.6L245.0 379.6L245.6 378.6L246.2 377.9L246.9 378.3L247.5 379.2L248.1 378.4L248.8 380.1L249.4 378.2L250.0 377.8L250.6 379.0L251.2 378.1L251.9 378.9L252.5 379.1L253.1 378.6L253.8 378.4L254.4 379.3L255.0 379.0L255.6 378.2L256.2 377.7L256.9 377.7L257.5 378.8L258.1 379.0L258.8 377.0L259.4 377.0L260.0 376.2L260.6 378.9L261.2 376.7L261.9 378.1L262.5 379.2L263.1 377.6L263.8 380.9L264.4 380.9L265.0 381.2L265.6 379.0L266.2 378.4L266.9 381.3L267.5 379.8L268.1 378.2L268.8 380.9L269.4 382.0L270.0 379.8L270.6 381.5L271.2 380.0L271.9 380.6L272.5 380.8L273.1 381.1L273.8 380.2L274.4 380.6L275.0 380.9L275.6 382.0L276.2 381.3L276.9 381.2L277.5 383.8L278.1 380.6L278.8 381.1L279.4 379.2L280.0 381.0L280.6 380.0L281.2 380.3L281.9 378.9L282.5 380.0L283.1 381.8L283.8 380.0L284.4 380.8L285.0 380.0L285.6 379.9L286.2 379.7L286.9 380.6L287.5 380.0L288.1 378.2L288.8 378.4L289.4 378.2L290.0 379.9L290.6 378.7L291.2 376.9L291.9 379.2L292.5 378.0L293.1 380.1L293.8 377.6L294.4 378.1L295.0 377.4L295.6 379.2L296.2 376.7L296.9 376.2L297.5 376.3L298.1 375.2L298.8 375.1L299.4 376.7L300.0 374.3L300.6 375.0L301.2 374.1L301.9 376.4L302.5 373.8L303.1 374.7L303.8 377.2L304.4 374.0L305.0 374.7L305.6 373.2L306.2 374.9L306.9 375.2L307.5 373.9L308.1 373.2L308.8 374.3L309.4 371.0L310.0 373.3L310.6 374.5L311.2 372.4L311.9 370.9L312.5 373.1L313.1 371.9L313.8 372.0L314.4 372.8L315.0 374.0L315.6 372.5L316.2 371.6L316.9 371.8L317.5 371.9L318.1 373.5L318.8 371.6L319.4 371.8L320.0 371.5L320.6 370.1L321.2 372.6L321.9 371.1L322.5 370.7L323.1 370.5L323.8 370.3L324.4 371.6L325.0 370.4L325.6 372.3L326.2 366.5L326.9 370.8L327.5 371.0L328.1 369.2L328.8 370.6L329.4 370.2L330.0 371.8L330.6 369.5L331.2 370.0L331.9 370.4L332.5 369.7L333.1 369.4L333.8 369.7L334.4 368.7L335.0 369.5L335.6 370.9L336.2 369.0L336.9 368.5L337.5 372.1L338.1 371.2L338.8 375.2L339.4 372.3L340.0 370.5L340.6 373.9L341.2 373.3L341.9 371.6L342.5 372.9L343.1 371.6L343.8 371.1L344.4 371.1L345.0 370.7L345.6 371.2L346.2 374.3L346.9 373.9L347.5 375.2L348.1 374.3L348.8 374.0L349.4 374.5L350.0 374.0L350.6 376.7L351.2 374.5L351.9 373.1L352.5 374.8L353.1 375.8L353.8 376.6L354.4 375.8L355.0 375.6L355.6 377.5L356.2 375.3L356.9 375.4L357.5 376.5L358.1 374.5L358.8 376.3L359.4 375.7L360.0 376.0L360.6 377.4L361.2 378.8L361.9 377.7L362.5 378.0L363.1 380.0L363.8 380.1L364.4 379.8L365.0 380.3L365.6 381.1L366.2 381.3L366.9 381.2L367.5 382.7L368.1 381.8L368.8 383.0L369.4 382.6L370.0 382.6L370.6 382.9L371.2 380.9L371.9 384.0L372.5 382.9L373.1 381.9L373.8 381.9L374.4 383.1L375.0 383.0L375.6 381.8L376.2 381.8L376.9 382.7L377.5 382.2L378.1 382.8L378.8 381.1L379.4 379.7L380.0 380.7L380.6 382.0L381.2 381.3L381.9 379.3L382.5 382.3L383.1 382.4L383.8 381.4L384.4 381.3L385.0 380.9L385.6 381.7L386.2 381.3L386.9 381.5L387.5 381.8L388.1 381.7L388.8 382.2L389.4 379.7L390.0 380.9L390.6 383.1L391.2 386.0L391.9 383.9L392.5 383.8L393.1 382.3L393.8 385.0L394.4 384.2L395.0 385.2L395.6 384.5L396.2 385.3L396.9 386.2L397.5 384.6L398.1 386.0L398.8 385.1L399.4 382.5L400.0 384.4L400.6 385.4L401.2 386.5L401.9 385.6L402.5 384.6L403.1 387.3L403.8 386.5L404.4 386.1L405.0 388.1L405.6 389.0L406.2 388.9L406.9 387.3L407.5 388.6L408.1 389.2L408.8 389.3L409.4 391.2L410.0 391.6L410.6 391.5L411.2 391.2L411.9 390.1L412.5 390.1L413.1 390.9L413.8 391.1L414.4 391.3L415.0 390.5L415.6 390.8L416.2 392.3L416.9 390.8L417.5 393.1L418.1 392.6L418.8 391.8L419.4 391.6L420.0 391.7L420.6 390.9L421.2 392.7L421.9 393.7L422.5 393.7L423.1 394.8L423.8 397.3L424.4 392.2L425.0 394.3L425.6 394.1L426.2 393.9L426.9 393.1L427.5 393.5L428.1 394.9L428.8 392.6L429.4 394.7L430.0 393.8L430.6 394.8L431.2 393.2L431.9 393.0L432.5 393.8L433.1 393.8L433.8 392.9L434.4 394.4L435.0 394.1L435.6 393.3L436.2 393.5L436.9 393.1L437.5 393.0L438.1 392.4L438.8 394.2L439.4 394.0L440.0 392.9L440.6 392.5L441.2 392.9L441.9 393.3L442.5 393.1L443.1 391.7L443.8 392.1L444.4 391.4L445.0 392.0L445.6 391.8L446.2 391.7L446.9 391.2L447.5 390.9L448.1 391.1L448.8 389.7L449.4 390.6L450.0 390.0L450.6 389.6L451.2 390.9L451.9 391.1L452.5 390.6L453.1 390.2L453.8 388.6L454.4 387.8L455.0 388.3L455.6 389.1L456.2 388.1L456.9 390.7L457.5 389.9L458.1 389.5L458.8 388.8L459.4 389.7L460.0 387.7L460.6 388.5L461.2 389.3L461.9 388.1L462.5 388.7L463.1 390.3L463.8 389.3L464.4 387.5L465.0 389.2L465.6 388.7L466.2 387.2L466.9 387.9L467.5 389.2L468.1 386.2L468.8 387.9L469.4 386.5L470.0 388.0L470.6 387.0L471.2 385.8L471.9 388.6L472.5 388.1L473.1 388.2L473.8 387.6L474.4 389.0L475.0 387.6L475.6 389.7L476.2 389.1L476.9 389.0L477.5 388.2L478.1 389.1L478.8 390.1L479.4 389.5L480.0 388.1L480.6 386.9L481.2 387.2L481.9 387.8L482.5 388.7L483.1 388.9L483.8 388.5L484.4 386.8L485.0 390.6L485.6 387.5L486.2 389.0L486.9 388.0L487.5 388.0L488.1 388.5L488.8 389.2L489.4 389.6L490.0 387.4L490.6 388.2L491.2 390.4L491.9 390.1L492.5 385.2L493.1 388.6L493.8 389.6L494.4 387.3L495.0 386.1L495.6 388.0L496.2 387.7L496.9 387.5L497.5 389.2L498.1 388.8L498.8 390.1L499.4 391.1L500.0 389.4L500.6 385.3L501.2 388.5L501.9 387.7L502.5 385.1L503.1 386.9L503.8 385.6L504.4 386.4L505.0 386.5L505.6 388.2L506.2 388.3L506.9 386.9L507.5 387.7L508.1 383.3L508.8 385.5L509.4 384.0L510.0 383.5L510.6 384.0L511.2 383.5L511.9 384.8L512.5 382.7L513.1 382.2L513.8 383.7L514.4 384.2L515.0 384.4L515.6 382.0L516.2 385.1L516.9 382.8L517.5 385.4L518.1 383.0L518.8 383.5L519.4 381.6L520.0 384.7L520.6 383.9L521.2 382.6L521.9 383.2L522.5 382.4L523.1 382.0L523.8 383.3L524.4 383.0L525.0 383.9L525.6 382.8L526.2 384.3L526.9 384.6L527.5 383.5L528.1 383.7L528.8 382.7L529.4 381.6L530.0 382.4L530.6 382.9L531.2 382.4L531.9 383.9L532.5 382.4L533.1 381.0L533.8 383.7L534.4 380.9L535.0 382.7L535.6 382.1L536.2 380.2L536.9 381.0L537.5 380.0L538.1 379.0L538.8 380.0L539.4 378.4L540.0 378.3L540.6 379.6L541.2 377.6L541.9 378.2L542.5 377.6L543.1 380.0L543.8 378.1L544.4 379.3L545.0 378.6L545.6 378.5L546.2 378.6L546.9 379.3L547.5 378.3L548.1 380.0L548.8 379.6L549.4 378.0L550.0 379.9L550.6 378.8L551.2 378.9L551.9 378.7L552.5 379.0L553.1 378.1L553.8 377.1L554.4 376.9L555.0 377.2L555.6 374.4L556.2 373.6L556.9 373.5L557.5 370.3L558.1 371.4L558.8 370.9L559.4 372.0L560.0 371.1L560.6 369.6L561.2 370.8L561.9 371.8L562.5 367.6L563.1 368.4L563.8 371.7L564.4 364.1L565.0 370.1L565.6 367.4L566.2 367.2L566.9 365.6L567.5 365.0L568.1 362.5L568.8 361.7L569.4 359.9L570.0 359.6L570.6 357.0L571.1 353.4L571.7 353.9L572.3 354.8L572.8 350.2L573.4 348.7L574.0 349.7L574.5 348.6L575.1 348.1L575.7 346.1L576.2 345.5L576.9 344.2L577.5 345.3L578.1 344.8L578.8 345.8L579.4 343.7L580.0 343.1L580.6 344.1L581.2 343.7L581.9 344.0L582.5 343.4L583.1 341.7L583.7 344.4L584.2 346.7L584.8 343.4L585.3 340.6L585.9 340.9L586.4 339.4L587.0 339.0L587.5 335.7L588.1 334.2L588.7 331.5L589.4 333.1L590.0 332.6L590.6 331.5L591.2 325.9L591.9 322.7L592.5 320.0L593.1 319.7L593.7 318.3L594.4 317.1L595.0 315.9L595.6 315.3L596.2 315.1L596.9 315.1L597.5 314.2L598.1 312.3L598.8 313.9L599.4 312.5L600.2 317.3L600.8 315.1L601.4 312.3L601.9 310.5L602.5 309.9L603.1 309.0L603.8 308.9L604.4 311.9L605.0 310.8L605.6 309.8L606.2 308.8L606.9 308.3L607.5 308.1L608.1 307.5L608.7 306.9L609.4 306.7L610.0 304.7L610.6 305.1L611.2 304.1L611.9 302.4L612.5 304.8L613.1 304.1L613.8 302.7L614.4 303.6L615.0 304.0L615.6 302.1L616.2 302.5L616.9 303.5L617.5 301.0L618.1 301.6L618.8 303.3L619.4 301.1L620.0 300.4L620.6 300.0L621.3 298.8L621.9 299.7L622.5 296.1L623.1 291.6L623.8 292.2L624.4 290.2L625.0 287.9L625.6 288.7L626.2 288.1L626.9 285.5L627.5 285.4L628.1 284.6L628.8 283.6L629.4 284.2L630.0 282.0L630.6 282.4L631.3 281.5L631.9 282.5L632.5 284.5L633.1 286.2L633.8 276.3L634.4 275.0L635.0 273.4L635.6 273.6L636.2 274.8L636.9 273.6L637.5 272.4L638.1 269.9L638.8 270.8L639.4 269.8L640.0 267.9L640.6 271.3L641.2 270.6L641.9 269.2L642.5 267.1L643.1 267.6L643.7 267.0L644.4 268.0L645.0 267.9L645.6 267.5L646.2 267.9L646.9 268.4L647.5 267.6L648.1 266.7L648.8 265.2L649.4 263.7L650.0 263.2L650.6 263.8L651.3 259.8L651.9 259.8L652.5 260.2L653.1 260.6L653.8 258.3L654.4 257.7L655.0 258.0L655.7 257.5L656.3 257.0L657.0 255.0L657.6 254.6L658.3 255.6L658.9 254.0L659.4 256.0L660.0 255.3L660.6 254.8L661.2 255.0L661.9 254.3L662.5 255.0L663.1 253.5L663.8 258.8L664.4 253.1L665.0 251.4L665.6 252.7L666.2 249.2L666.9 250.4L667.5 249.9L668.1 249.8L668.8 247.7L669.4 249.1L670.0 248.9L670.6 248.1L671.2 248.8L671.9 248.8L672.5 248.4L673.1 245.7L673.8 247.7L674.4 247.9L675.0 247.5L675.6 247.2L676.2 247.8L676.9 246.3L677.5 246.9L678.1 247.5L678.8 246.2L679.4 247.4L680.0 246.6L680.6 246.9L681.2 246.5L681.9 245.9L682.5 245.2L683.1 246.0L683.8 245.7L684.4 244.9L685.0 244.1L685.6 243.8L686.2 243.6L686.9 244.5L687.5 244.3L688.1 244.1L688.8 243.9L689.4 244.7L690.0 243.5L690.6 243.2L691.2 246.0L691.9 244.0L692.5 243.5L693.1 243.2L693.8 243.0L694.4 243.1L695.0 243.6L695.6 240.7L696.2 241.5L696.9 242.3L697.5 240.7L698.1 241.6L698.8 236.6L699.4 241.0L700.0 239.9L700.6 239.8L701.2 239.5L701.9 239.5L702.5 239.3L703.1 238.0L703.8 239.2L704.4 238.8L705.0 239.1L705.6 244.2L706.2 239.1L706.9 238.8L707.5 238.3L708.1 237.1L708.8 238.0L709.4 239.0L710.0 235.9L710.6 237.1L711.2 237.3L711.9 237.6L712.5 236.8L713.1 237.2L713.8 240.7L714.4 236.6L715.0 234.8L715.6 235.8L716.2 236.8L716.9 237.0L717.5 233.6L718.1 235.4L718.8 233.5L719.4 233.7L720.0 234.0L720.6 232.9L721.2 232.3L721.9 237.0L722.5 234.3L723.1 231.7L723.8 229.2L724.4 229.9L725.0 232.7L725.6 231.4L726.2 229.8L726.9 229.7L727.5 228.6L728.1 228.3L728.8 228.8L729.4 228.8L730.0 228.0L730.6 227.1L731.2 223.9L731.9 218.0L732.5 236.2L733.1 226.4L733.8 228.2L734.4 226.7L735.0 225.4L735.6 225.7L736.2 226.8L736.9 224.3L737.5 224.5L738.1 224.7L738.8 224.3L739.4 223.8L740.0 223.0L740.6 223.3L741.2 220.1L741.9 224.1L742.5 223.6L743.1 224.2L743.8 218.5L744.4 223.0L745.0 222.2L745.6 221.6L746.2 222.5L746.9 221.8L747.5 221.4L748.1 215.5L748.8 219.7L749.4 220.3L750.0 219.3L750.6 220.8L751.2 219.0L751.9 218.9L752.5 218.1L753.1 219.0L753.8 216.8L754.4 218.6L755.0 219.3L755.6 217.9L756.2 218.1L756.9 218.0L757.5 217.9L758.1 216.9L758.8 216.7L759.4 215.7L760.0 216.6L760.6 217.0L761.2 217.5L761.9 215.4L762.5 213.6L763.1 230.4L763.8 216.2L764.4 216.9L765.0 215.1L765.6 216.8L766.2 215.9L766.9 217.6L767.5 223.2L768.1 215.7L768.8 216.0L769.4 215.4L770.0 215.8L770.6 215.1L771.2 215.4L771.9 215.4L772.5 215.0L773.1 210.8L773.8 215.2L774.4 214.9L775.0 215.6L775.6 214.7L776.2 218.5L776.9 214.9L777.5 214.9L778.1 215.0L778.8 215.1L779.4 215.4L780.0 215.4L780.6 215.7L781.2 215.2L781.9 215.3L782.5 215.1L783.1 215.2L783.8 214.9L784.4 214.8L785.0 214.5L785.6 214.5" fill="none" stroke="#e8336c" stroke-width="2.15" stroke-linejoin="round"/><path d="M785.6 214.5L786.2 214.0L786.8 213.8L787.4 214.4L788.0 214.3L788.6 214.0L789.2 214.8L789.8 213.2L790.4 213.8L791.0 213.8L791.5 213.7L792.1 213.7L792.7 213.6L793.3 213.5L793.9 213.5L794.5 213.4L795.1 213.3L795.7 213.3L796.3 213.2L796.9 213.2L797.5 213.1L798.1 213.0L798.7 213.0L799.3 212.9L799.9 212.8L800.4 212.7L801.0 212.7L801.6 212.6L802.2 212.5L802.8 212.5L803.4 212.4L804.0 212.3L804.6 212.3L805.1 212.2L805.7 212.1L806.3 212.0L806.9 212.0L807.5 211.9L808.1 211.8L808.8 211.7L809.4 211.6L810.0 211.5L810.6 211.4L811.2 211.4L811.9 211.3L812.5 211.2L813.1 211.1L813.8 211.0L814.4 211.3L815.0 211.7L815.6 212.0L816.2 212.4L816.9 212.7L817.5 213.1L818.1 213.4L818.8 213.8L819.4 214.1L820.0 214.4L820.6 214.7L821.2 215.0L821.9 215.3L822.5 215.6L823.1 215.6L823.8 215.6L824.4 215.6L825.0 215.6L825.6 215.6L826.2 215.6L826.9 215.6L827.5 215.6L828.1 215.6L828.8 215.6L829.4 215.7L830.0 215.7L830.6 215.8L831.2 215.9L831.9 215.9L832.5 216.0L833.1 216.1L833.8 216.1L834.4 216.2L835.0 216.2L835.6 216.2L836.2 216.2L836.9 216.2L837.5 216.2L838.1 216.2L838.8 216.2L839.4 216.2L840.0 216.2L840.6 216.2L841.2 216.2L841.9 216.3L842.5 216.4L843.1 216.5L843.8 216.6L844.4 216.7L845.0 216.7L845.6 216.8L846.2 216.9L846.9 217.3L847.5 217.6L848.1 218.0L848.8 218.4L849.4 218.8L850.0 218.6L850.6 218.4L851.3 218.3L851.9 218.1L852.5 215.3L853.1 212.5L853.7 212.3L854.4 212.1L855.0 212.0L855.6 211.8L856.2 211.6L856.9 211.4L857.5 211.2L858.1 210.8L858.8 210.3L859.4 209.9L860.0 209.4L860.6 209.4L861.2 209.4L861.9 209.4L862.5 209.4L863.1 209.4L863.8 209.4L864.4 209.4L865.0 209.4L865.6 209.4L866.2 209.4L866.9 209.3L867.5 209.3L868.1 209.2L868.8 209.1L869.4 209.1L870.0 209.0L870.6 208.9L871.2 208.9L871.9 208.8L872.5 208.8L873.1 208.7L873.8 208.6L874.4 208.5L875.0 208.4L875.6 208.3L876.2 208.3L876.9 208.2L877.5 208.1L878.1 207.9L878.8 207.7L879.4 207.5L880.0 207.3L880.6 207.1L881.2 206.9L881.9 206.7L882.5 206.5L883.1 206.5L883.8 206.5L884.4 206.5L885.0 206.5L885.6 206.5L886.2 206.5L886.9 206.6L887.5 206.7L888.1 206.8L888.8 206.9L889.4 207.0L890.0 207.1L890.6 207.2L891.2 207.3L891.9 207.4L892.5 207.5L893.1 207.6L893.8 207.6L894.4 207.7L895.0 207.7L895.6 207.8L896.2 207.9L896.9 207.9L897.5 208.0L898.1 208.0L898.8 208.1L899.4 208.2L900.0 208.2L900.6 208.3L901.2 208.4L901.9 208.4L902.5 208.5L903.1 208.6L903.8 208.6L904.4 208.7L905.0 208.8L905.6 208.8L906.2 208.8L906.9 208.8L907.5 208.8L908.1 208.8L908.8 208.8L909.4 208.8L910.0 208.8L910.6 209.2L911.2 209.7L911.9 210.1L912.5 210.6L913.1 210.7L913.8 210.7L914.4 210.8L915.0 210.8L915.6 210.8L916.2 210.9L916.9 210.9L917.5 211.0L918.1 211.0L918.8 211.1L919.4 211.1L920.0 211.1L920.6 211.1L921.2 211.2L921.9 211.2L922.5 211.2L923.1 211.2L923.8 211.2L924.4 211.2L925.0 211.1L925.6 211.1L926.2 211.0L926.9 210.9L927.5 210.9L928.1 210.8L928.8 210.7L929.4 210.7L930.0 210.6L930.6 210.7L931.2 210.8L931.9 210.9L932.5 211.1L933.1 211.2L933.8 211.3L934.4 211.4L935.0 211.5L935.6 212.3L936.3 213.2L936.9 214.0L937.5 214.0L938.1 214.1L938.8 214.1L939.4 214.2L940.0 214.2L940.6 214.3L941.3 214.3L941.9 214.4L942.5 214.4L943.1 214.3L943.8 214.2L944.4 214.2L945.0 214.1L945.6 214.0L946.2 213.9L946.9 213.8L947.5 213.8L948.1 213.1L948.8 212.4L949.4 211.7L950.0 211.0L950.6 210.9L951.2 210.8L951.9 210.6L952.5 210.5L953.1 210.4L953.8 210.2L954.4 210.1L955.0 210.0L955.6 210.0L956.2 210.0L956.9 210.0L957.5 210.0L958.1 210.0L958.8 210.0L959.4 210.0L960.0 210.0L960.6 210.0L961.2 209.9L961.9 209.9L962.5 209.8L963.1 209.8L963.8 209.8L964.4 209.7L965.0 209.7L965.6 209.6L966.2 209.6" fill="none" stroke="#e8336c" stroke-width="1.5" stroke-linejoin="round" stroke-linecap="round"/><path d="M108.5 418.5L111.4 417.3L115.6 415.5L120.3 413.5L125.0 411.5L129.5 409.6L134.2 407.6L139.0 405.5L143.8 403.2L148.4 400.7L153.1 398.0L157.8 395.2L162.5 392.5L167.2 389.8L171.9 387.1L176.6 384.4L181.2 381.9L186.1 379.4L191.0 377.0L195.8 374.7L200.0 372.8L203.7 371.3L207.0 370.1L209.9 369.1L212.5 368.3L214.7 367.6L216.6 367.1L218.2 366.8L220.0 366.4L221.8 366.1L223.7 365.8L225.5 365.6L227.5 365.4L229.6 365.2L231.8 365.1L234.0 365.0L236.2 365.0L238.3 365.1L240.4 365.3L242.5 365.6L245.0 366.0L247.9 366.6L251.0 367.2L254.3 368.0L257.5 368.8L260.6 369.5L263.8 370.4L266.9 371.2L270.0 371.9L273.1 372.5L276.2 373.0L279.4 373.5L282.5 374.0L285.6 374.5L288.8 374.9L291.9 375.3L295.0 375.6L298.1 375.9L301.2 376.1L304.4 376.3L307.5 376.5L310.6 376.7L313.8 376.8L316.9 377.0L320.0 377.1L323.2 377.2L326.6 377.4L329.7 377.5L332.5 377.8L334.6 378.0L336.2 378.3L337.9 378.7L340.0 379.0L342.8 379.4L345.9 379.8L349.3 380.1L352.5 380.5L355.6 380.8L358.8 381.2L361.9 381.5L365.0 381.8L368.1 382.0L371.2 382.3L374.4 382.6L377.5 382.8L380.6 382.8L383.8 382.8L386.9 382.7L390.0 382.8L393.2 382.8L396.6 382.9L399.7 383.1L402.5 383.2L404.6 383.5L406.3 383.7L408.0 384.0L410.0 384.5L412.5 385.2L415.3 386.0L418.3 386.9L421.2 387.8L424.3 388.5L427.4 389.2L430.6 389.9L433.8 390.5L436.9 391.0L440.0 391.5L443.1 392.0L446.2 392.4L449.5 392.8L452.7 393.2L455.9 393.6L458.8 394.0L461.3 394.3L463.6 394.6L465.7 394.9L468.0 395.2L470.3 395.5L472.5 395.7L474.9 396.0L477.5 396.2L480.6 396.5L484.0 396.7L487.2 396.9L490.0 397.1L492.0 397.2L493.5 397.4L494.8 397.5L496.2 397.5L497.7 397.5L499.0 397.5L500.5 397.4L502.5 397.2L505.2 397.0L508.4 396.6L511.7 396.1L515.0 395.6L518.1 395.1L521.2 394.5L524.4 393.8L527.5 393.1L530.6 392.2L533.8 391.3L536.9 390.3L540.0 389.4L543.1 388.7L546.2 388.1L549.3 387.6L552.5 386.9L555.9 386.2L559.4 385.4L562.9 384.5L566.2 383.5L569.5 382.3L572.8 380.9L575.9 379.5L578.8 378.1L581.1 376.9L583.1 375.8L585.2 374.5L588.0 372.6L591.8 369.9L596.3 366.7L600.9 363.2L605.0 360.0L608.4 357.1L611.5 354.3L614.5 351.5L617.5 348.8L620.7 345.9L623.9 343.0L627.1 340.1L630.0 337.5L632.7 335.1L635.3 332.8L637.7 330.6L640.0 328.6L641.9 326.9L643.6 325.5L645.3 324.0L647.5 322.0L650.3 319.4L653.4 316.3L656.8 313.1L660.0 310.0L663.1 307.1L666.2 304.3L669.4 301.5L672.5 298.8L675.6 295.9L678.8 293.1L681.9 290.3L685.0 287.5L688.1 284.8L691.2 282.1L694.4 279.4L697.5 276.9L700.6 274.6L703.8 272.4L706.9 270.2L710.0 268.0L713.1 265.8L716.2 263.5L719.4 261.2L722.5 258.8L725.6 256.1L728.8 253.2L731.9 250.4L735.0 247.5L738.1 244.7L741.2 241.9L744.4 239.1L747.5 236.2L750.6 233.2L753.8 230.1L756.9 227.0L760.0 224.2L763.1 221.7L766.2 219.5L769.4 217.4L772.5 215.2L775.6 213.0L778.8 210.8L781.9 208.7L785.0 206.5L788.1 204.2L791.2 201.9L794.4 199.6L797.5 197.5L800.8 195.5L804.1 193.6L807.3 192.0L810.0 190.6L812.0 189.6L813.5 189.0L814.8 188.5L816.2 188.1L817.8 187.7L819.3 187.4L820.8 187.1L822.5 186.9L824.3 186.7L826.1 186.5L828.0 186.4L830.0 186.2L832.1 186.2L834.3 186.1L836.5 186.1L838.8 186.2L840.8 186.4L842.9 186.7L845.0 187.1L847.5 187.8L850.4 188.7L853.5 190.0L856.8 191.4L860.0 192.5L863.2 193.4L866.6 194.3L869.7 195.0L872.5 195.6L874.6 196.0L876.2 196.2L877.9 196.4L880.0 196.9L882.8 197.6L885.9 198.5L889.3 199.5L892.5 200.6L895.8 201.8L899.1 203.1L902.3 204.4L905.0 205.6L907.0 206.5L908.5 207.3L909.8 208.0L911.2 208.8L912.7 209.6L914.0 210.6L915.5 211.5L917.5 212.5L920.2 213.5L923.4 214.4L926.7 215.4L930.0 216.2L933.1 217.0L936.2 217.8L939.4 218.4L942.5 219.0L945.7 219.4L948.8 219.8L952.0 220.0L955.0 220.2L958.2 220.5L961.4 220.7L964.3 220.9L966.2 221.0" fill="none" stroke="#1414cc" stroke-width="1.75" stroke-linejoin="round"/><line x1="966.3" x2="966.3" y1="210" y2="405" stroke="#505055" stroke-width="1.5" stroke-dasharray="2.7 3.1" stroke-dashoffset="2.9"/><line x1="815.5" x2="966" y1="365.5" y2="365.5" stroke="#6f8fe8" stroke-width="1" stroke-dasharray="2.6 2"/><line x1="815.5" x2="966" y1="405" y2="405" stroke="#ea4a7c" stroke-width="1" stroke-dasharray="2.6 2"/><text x="815.4" y="360.3" textLength="104" lengthAdjust="spacingAndGlyphs" font-family="'Liberation Sans', sans-serif" font-weight="bold" font-size="13.2" fill="#5b7ee6">111SMA: $91.3k</text><text x="815.4" y="401.4" textLength="108.6" lengthAdjust="spacingAndGlyphs" font-family="'Liberation Sans', sans-serif" font-weight="bold" font-size="13.2" fill="#e63e72">STH-CB: $93.2k</text><circle cx="33.1" cy="75.8" r="2.7" fill="#141416"/><circle cx="112.75" cy="75.8" r="2.7" fill="#e8336c"/><circle cx="262.75" cy="75.8" r="2.7" fill="#1414cc"/><text x="870.5" y="554" font-family="'Liberation Sans', sans-serif" font-size="27.4" fill="#dcdcde">glassnode</text></svg>
<div class="footer">© 2025 Glassnode. All Rights Reserved.</div>
</body></html>
